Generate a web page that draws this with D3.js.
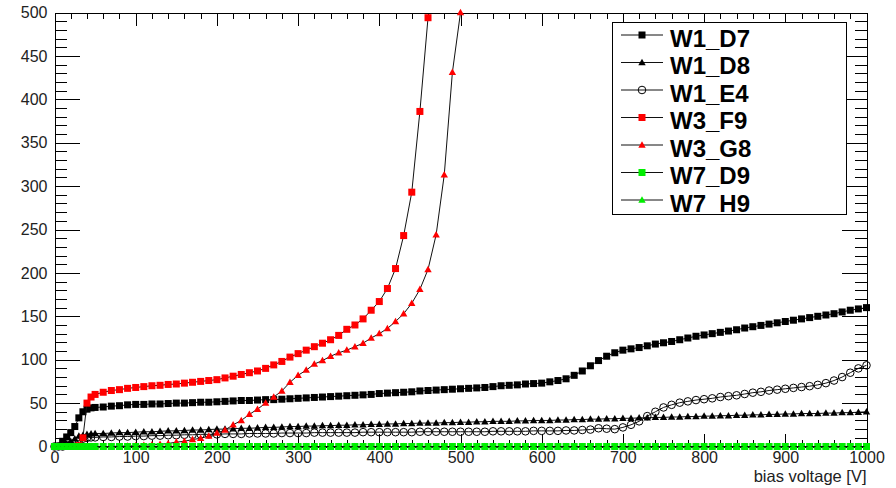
<!DOCTYPE html>
<html><head><meta charset="utf-8">
<script src="https://cdn.jsdelivr.net/npm/d3@7"></script>
<style>body{margin:0;background:#fff}svg{display:block}</style>
</head><body><svg id="c" width="896" height="488"></svg>
<script>
const volts=[0,5,10,15,20,25,30,35,40,45,50,60,70,80,90,100,110,120,130,140,150,160,170,180,190,200,210,220,230,240,250,260,270,280,290,300,310,320,330,340,350,360,370,380,390,400,410,420,430,440,450,460,470,480,490,500,510,520,530,540,550,560,570,580,590,600,610,620,630,640,650,660,670,680,690,700,710,720,730,740,750,760,770,780,790,800,810,820,830,840,850,860,870,880,890,900,910,920,930,940,950,960,970,980,990,1000];

const W1_D7=[0,0.5,6,11,16,23,33,40,43,44.5,45,
45.5,46.5,47,48,48.5,48.5,49,49,49.5,50,50,50.5,51,51,51.5,
52,52.5,53,53,53.5,54,54,54.5,55,55.5,
56,56.5,57,57.5,58,58.5,59,59.5,60,61,
61.5,62,62.5,63,64,64.5,65,65.5,66,66.5,
67,67.5,68,69,70,70.5,71,72,72.5,73,
74.5,76,78,82,87,93,99,104,108,111,
112.5,114,116,118,119.5,121,123,125,127,128.5,
130,131.5,133,134.5,136.5,138,139.5,141,142.5,144,
145.5,147,148.5,150,151.5,153,155,157,158.5,160];

const W1_D8=[0,0,1,3,6,9,12,13,14,14.5,15,
15,15.5,16,16,16.5,17,17,17.5,18,18,18.5,19,19,19.5,20,
20,20.5,21,21,21.5,22,22,22.5,23,23,
23.5,23.5,24,24,24.5,24.5,25,25,25.5,25.5,
26,26,26.5,26.5,27,27,27,27.5,27.5,28,
28,28.5,28.5,29,29,29,29.5,29.5,30,30,
30,30.5,30.5,31,31,31.5,31.5,32,32,32.5,
32.5,33,33,33.5,33.5,34,34,34.5,34.5,35,
35,35.5,35.5,36,36,36.5,36.5,37,37,37.5,
37.5,38,38,38,38.5,38.5,39,39,39.5,40];

const W1_E4=[0,0,0,1,2,4,7,9,10,10.5,10.5,
11,11,11.5,11.5,12,12,12.5,12.5,13,13,13.5,13.5,14,14,14,
14.5,14.5,14.5,15,15,15,15,15.5,15.5,15.5,
15.5,16,16,16,16,16,16,16.5,16.5,16.5,
16.5,16.5,16.5,16.5,17,17,17,17,17,17,
17,17,17,17.5,17.5,17.5,17.5,17.5,18,18,
18,18,18.5,18.5,19,19.5,21,20.5,20,22,
25,29,35,40,45,48,50.5,52,53.5,54.5,
55.5,57,58,59,60.5,62,63,64.5,65.5,66.5,
67.5,68.5,69.5,71,73,76,80,85,90,93.5];

const W3_F9=[0,0,0,0,0,0,1,10,50,57,60,
62.5,64.5,65.5,67,68,69,70,70.5,71.5,72,73,74,75,76,77,
79,81,83,85,87,90,94,98,103,107,
111,115,119,123,128,135,140,147,157,167,
182,205,243,293,386,494];

const W3_G8=[0,0,0,0,0,0,0,0,0,0,0,
0,0,0.5,0.5,1,1.5,2,2.5,3.5,5,6,8,9.5,12,15.5,
19,25,30,37,43,50,57,64,74,82,
88,95,99,104,108,111,115,119,125,130,
136,144,153,165,181,204,244,313,431,500];

const W7_D9=[0,0,0,0,0,0,0,0,0,0,0,0,0,0,0,0,0,0,0,0,0,0,0,0,0,0,0,0,0,0,0,0,0,0,0,0,0,0,0,0,0,0,0,0,0,0,0,0,0,0,0,0,0,0,0,0,0,0,0,0,0,0,0,0,0,0,0,0,0,0,0,0,0,0,0,0,0,0,0,0,0,0,0,0,0,0,0,0,0,0,0,0,0,0,0,0,0,0,0,0,0,0,0,0,0,0];
const W7_H9=[0,0,0,0,0,0,0,0,0,0,0,0,0,0,0,0,0,0,0,0,0,0,0,0,0,0,0,0,0,0,0,0,0,0,0,0,0,0,0,0,0,0,0,0,0,0,0,0,0,0,0,0,0,0,0,0,0,0,0,0,0,0,0,0,0,0,0,0,0,0,0,0,0,0,0,0,0,0,0,0,0,0,0,0,0,0,0,0,0,0,0,0,0,0,0,0,0,0,0,0,0,0,0,0,0,0];

const seriesNames=["W1_D7","W1_D8","W1_E4","W3_F9","W3_G8","W7_D9","W7_H9"];
const seriesValues=[W1_D7,W1_D8,W1_E4,W3_F9,W3_G8,W7_D9,W7_H9];
const seriesColors=["#000000","#000000","#000000","#ff0000","#ff0000","#00ee00","#00ee00"];
const seriesShapes=["square","triangle","circle","square","triangle","square","triangle"];
const xTicks=[0,100,200,300,400,500,600,700,800,900,1000];
const yTicks=[0,50,100,150,200,250,300,350,400,450,500];
const xTitle="bias voltage [V]";

const FONT='"Liberation Sans", Arial, Helvetica, sans-serif';
const svg=d3.select("#c");
svg.append("rect").attr("width",896).attr("height",488).attr("fill","#fff");

const x=d3.scaleLinear().domain([0,1000]).range([54.5,866.5]);
const y=d3.scaleLinear().domain([0,500]).range([446.5,12.5]);

const xMinor=d3.range(0,1001,20).filter(v=>v%100!==0);
const yMinor=d3.range(0,501,10).filter(v=>v%50!==0);

function styleAxis(g,keepDomain){
  g.attr("font-family",FONT).attr("font-size",16);
  g.selectAll("line").attr("stroke","#000").attr("shape-rendering","crispEdges");
  g.select(".domain").attr("stroke","#000").attr("shape-rendering","crispEdges");
  if(!keepDomain) g.select(".domain").remove();
  g.selectAll("text").attr("fill","#222");
}
// bottom
let g=svg.append("g").attr("transform",`translate(0,${y(0)})`)
  .call(d3.axisBottom(x).tickValues(xTicks).tickSize(-13).tickSizeOuter(0).tickPadding(5.5).tickFormat(d3.format("d")));
styleAxis(g,true);
g=svg.append("g").attr("transform",`translate(0,${y(0)})`)
  .call(d3.axisBottom(x).tickValues(xMinor).tickSize(-6.5).tickFormat(""));
styleAxis(g,false);
// top
g=svg.append("g").attr("transform",`translate(0,${y(500)})`)
  .call(d3.axisTop(x).tickValues(xTicks).tickSize(-13).tickSizeOuter(0).tickFormat(""));
styleAxis(g,true);
g=svg.append("g").attr("transform",`translate(0,${y(500)})`)
  .call(d3.axisTop(x).tickValues(xMinor).tickSize(-6.5).tickFormat(""));
styleAxis(g,false);
// left
g=svg.append("g").attr("transform",`translate(${x(0)},0)`)
  .call(d3.axisLeft(y).tickValues(yTicks).tickSize(-25).tickSizeOuter(0).tickPadding(7).tickFormat(d3.format("d")));
styleAxis(g,true);
g=svg.append("g").attr("transform",`translate(${x(0)},0)`)
  .call(d3.axisLeft(y).tickValues(yMinor).tickSize(-12).tickFormat(""));
styleAxis(g,false);
// right
g=svg.append("g").attr("transform",`translate(${x(1000)},0)`)
  .call(d3.axisRight(y).tickValues(yTicks).tickSize(-25).tickSizeOuter(0).tickFormat(""));
styleAxis(g,true);
g=svg.append("g").attr("transform",`translate(${x(1000)},0)`)
  .call(d3.axisRight(y).tickValues(yMinor).tickSize(-12).tickFormat(""));
styleAxis(g,false);

svg.append("text").attr("x",866.5).attr("y",482).attr("text-anchor","end")
  .attr("font-family",FONT).attr("font-size",16.5).attr("fill","#222").text(xTitle);

function drawMarker(sel,shape,color,cx,cy){
  if(shape==="square"){
    sel.append("rect").attr("x",cx-3.5).attr("y",cy-3.5).attr("width",7).attr("height",7).attr("fill",color);
  }else if(shape==="triangle"){
    sel.append("path").attr("d",`M${cx},${cy-3.8}L${cx+3.7},${cy+2.7}L${cx-3.7},${cy+2.7}Z`).attr("fill",color);
  }else{
    sel.append("circle").attr("cx",cx).attr("cy",cy).attr("r",3.8).attr("fill","none").attr("stroke",color).attr("stroke-width",1);
  }
}

const line=d3.line().x(d=>x(d[0])).y(d=>y(d[1]));
seriesValues.forEach((vals,i)=>{
  const pts=vals.map((v,j)=>[volts[j],v]);
  const gs=svg.append("g");
  gs.append("path").datum(pts).attr("d",line).attr("fill","none").attr("stroke","#111").attr("stroke-width",1);
  pts.forEach(p=>drawMarker(gs,seriesShapes[i],seriesColors[i],x(p[0]),y(p[1])));
});

// legend
const lg=svg.append("g");
lg.append("rect").attr("x",612.5).attr("y",22.5).attr("width",234).attr("height",191.5)
  .attr("fill","#fff").attr("stroke","#000").attr("stroke-width",1).attr("shape-rendering","crispEdges");
const rowY=d3.scaleLinear().domain([0,6]).range([35,200]);
seriesNames.forEach((n,i)=>{
  const ry=rowY(i);
  lg.append("line").attr("x1",621).attr("x2",663).attr("y1",ry).attr("y2",ry).attr("stroke","#111").attr("stroke-width",1);
  drawMarker(lg,seriesShapes[i],seriesColors[i],642,ry);
  lg.append("text").attr("x",670).attr("y",ry+11.7).attr("font-family",FONT).attr("font-weight","bold")
    .attr("font-size",24).attr("fill","#000").text(n);
});
</script></body></html>
